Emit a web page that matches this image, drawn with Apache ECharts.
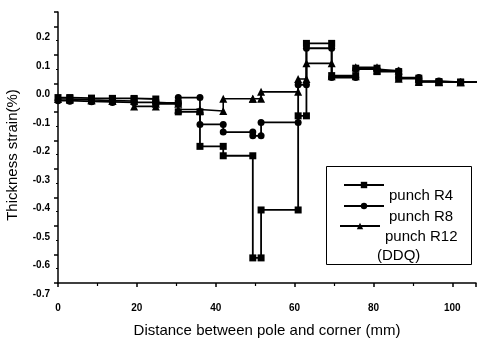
<!DOCTYPE html>
<html>
<head>
<meta charset="utf-8">
<script src="https://cdn.jsdelivr.net/npm/echarts@6/dist/echarts.min.js"></script>
<style>
  html, body { margin: 0; padding: 0; background: #fff; }
  #chart { width: 477px; height: 338px; }
</style>
</head>
<body>
<div id="chart"></div>
<script>
// Segment boundaries along the pole-to-corner distance (mm)
const boundaries = [0, 3, 8.5, 13.8, 19.3, 24.8, 30.5, 36, 41.9, 49.4, 51.5, 60.9, 63, 69.4, 75.5, 80.9, 86.4, 91.5, 96.6, 102.1, 108];

// Thickness strain (%) measured on each segment
const punchR4  = [-0.050, -0.052, -0.053, -0.053, -0.055, -0.069, -0.100, -0.221, -0.254, -0.612, -0.444, -0.114, 0.140, 0.027, 0.053, 0.041, 0.018, 0.006, 0.004, 0.004];
const punchR8  = [-0.061, -0.063, -0.065, -0.067, -0.067, -0.070, -0.050, -0.144, -0.171, -0.184, -0.137, -0.005, 0.123, 0.020, 0.050, 0.043, 0.020, 0.008, 0.004, 0.004];
const punchR12 = [-0.055, -0.058, -0.060, -0.062, -0.081, -0.072, -0.092, -0.097, -0.054, -0.054, -0.030, 0.015, 0.070, 0.025, 0.056, 0.045, 0.016, 0.005, 0.004, 0.004];

const seriesNames = ['punch R4', 'punch R8', 'punch R12'];
const xTicks = [0, 20, 40, 60, 80, 100];

// Each segment is a flat plateau with a marker at both ends
function stepPoints(values) {
  const pts = [];
  values.forEach((v, i) => {
    pts.push([boundaries[i], v]);
    pts.push([boundaries[i + 1], v]);
  });
  return pts;
}

const font = 'Liberation Sans, Arial, Helvetica, sans-serif';
const chart = echarts.init(document.getElementById('chart'));

// One legend block per series; the name sits on the line below its key
function legendEntry(name, left, top) {
  return {
    data: [name],
    left: left,
    top: top,
    padding: 0,
    itemWidth: 40,
    itemHeight: 8,
    selectedMode: false,
    formatter: n => '\n' + n,
    textStyle: { fontFamily: font, fontSize: 15, color: '#000', lineHeight: 22 }
  };
}

chart.setOption({
  backgroundColor: '#fff',
  animation: false,
  grid: { left: 58, right: 1, top: 12, bottom: 55, outerBoundsMode: 'none', containLabel: false },
  xAxis: {
    type: 'value',
    min: 0,
    max: 106,
    interval: 20,
    name: 'Distance between pole and corner (mm)',
    nameLocation: 'middle',
    nameGap: 40,
    nameTextStyle: { fontFamily: font, fontSize: 15, color: '#000' },
    axisLine: { onZero: false, lineStyle: { color: '#000', width: 1.5 } },
    axisTick: { length: 4, lineStyle: { color: '#000', width: 1.5 } },
    minorTick: { show: true, splitNumber: 2, length: 3, lineStyle: { color: '#000', width: 1.2 } },
    splitLine: { show: false },
    axisLabel: {
      fontFamily: font, fontSize: 10, fontWeight: 'bold', color: '#000', margin: 20,
      showMaxLabel: false,
      formatter: v => (xTicks.indexOf(v) >= 0 ? String(v) : '')
    }
  },
  yAxis: {
    type: 'value',
    min: -0.7,
    max: 0.25,
    interval: 0.1,
    name: 'Thickness strain(%)',
    nameLocation: 'middle',
    nameGap: 38,
    nameTextStyle: { fontFamily: font, fontSize: 15, color: '#000', padding: [0, 15, 0, 0] },
    axisLine: { onZero: false, lineStyle: { color: '#000', width: 1.5 } },
    axisTick: { length: 4, lineStyle: { color: '#000', width: 1.5 } },
    minorTick: { show: true, splitNumber: 2, length: 2, lineStyle: { color: '#000', width: 1 } },
    splitLine: { show: false },
    axisLabel: {
      fontFamily: font, fontSize: 10, fontWeight: 'bold', color: '#000', margin: 8,
      verticalAlign: 'top', padding: [6, 0, 0, 0],
      showMaxLabel: false,
      formatter: v => v.toFixed(1)
    }
  },
  legend: [
    legendEntry(seriesNames[0], 343, 163),
    legendEntry(seriesNames[1], 343, 184),
    legendEntry(seriesNames[2], 339, 204)
  ],
  graphic: [
    {
      type: 'rect',
      shape: { x: 326.5, y: 166.5, width: 145, height: 98 },
      style: { fill: 'none', stroke: '#000', lineWidth: 1 },
      z: 100
    },
    {
      type: 'text',
      left: 377,
      top: 248,
      style: { text: '(DDQ)', fontFamily: font, fontSize: 15, fill: '#000' },
      z: 100
    }
  ],
  series: [
    {
      name: seriesNames[2],
      type: 'line',
      data: stepPoints(punchR12),
      symbol: 'triangle',
      symbolSize: 8,
      itemStyle: { color: '#000' },
      lineStyle: { color: '#000', width: 1.6 },
      z: 2
    },
    {
      name: seriesNames[1],
      type: 'line',
      data: stepPoints(punchR8),
      symbol: 'circle',
      symbolSize: 7,
      itemStyle: { color: '#000' },
      lineStyle: { color: '#000', width: 1.8 },
      z: 3
    },
    {
      name: seriesNames[0],
      type: 'line',
      data: stepPoints(punchR4),
      symbol: 'rect',
      symbolSize: 7,
      itemStyle: { color: '#000' },
      lineStyle: { color: '#000', width: 1.8 },
      z: 4
    }
  ]
});
</script>
</body>
</html>
